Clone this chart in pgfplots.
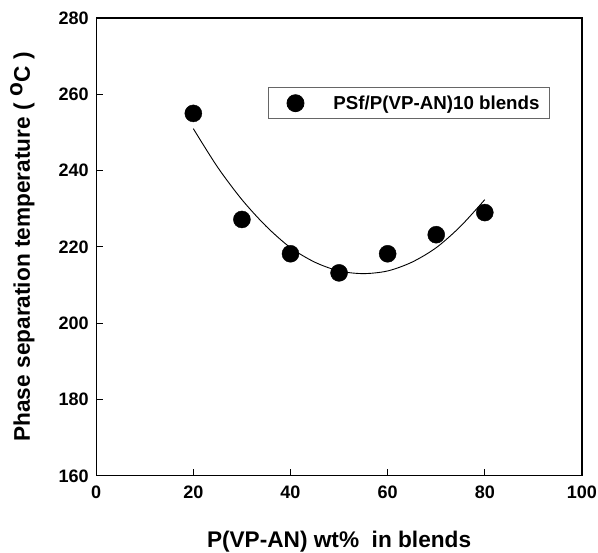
\documentclass[border=0pt]{standalone}
\usepackage{pgfplots}
\pgfplotsset{compat=1.18}
\usepackage{fontspec}
\setmainfont{Liberation Sans}
\begin{document}
\begin{tikzpicture}
\begin{axis}[
  scale only axis,
  width=485pt, height=457pt,
  xmin=0, xmax=100, ymin=160, ymax=280,
  xtick={0,20,...,100}, ytick={160,180,...,280},
  tick align=inside, xtick pos=bottom, ytick pos=left,
  major tick length=7pt,
  axis line style={line width=1.3pt},
  tick style={line width=1.1pt, black},
  /pgf/number format/assume math mode=true,
  ticklabel style={font=\fontsize{18}{21}\selectfont\bfseries},
  xticklabel style={yshift=-7pt},
  yticklabel style={xshift=-4pt},
  xlabel={P(VP-AN) wt\%\ \ in blends},
  ylabel={Phase separation temperature ( $^{\textbf{o}}$C )},
  label style={font=\fontsize{22.6}{26}\selectfont\bfseries},
  xlabel style={at={(axis description cs:0.5,0)}, anchor=base, yshift=-72pt},
  ylabel style={at={(axis description cs:0,0.5)}, anchor=south, yshift=58pt},
  legend style={at={(axis cs:35.3,264.0)}, anchor=south west, draw=black!60, line width=0.8pt,
    font=\fontsize{18.7}{22}\selectfont\bfseries, inner xsep=8pt, inner ysep=6pt,
    yshift=-40pt},
  legend cell align=left,
  legend image code/.code={\path (0,0); \fill[black] (19pt,0cm) circle (8.5pt);},
]
\addplot[only marks, mark=*, mark size=8.5pt, black] coordinates {
  (20,255) (30,227.2) (40,218.2) (50,213.2) (60,218.2) (70,223.2) (80,229)
};
\addlegendentry{\hspace{27pt}PSf/P(VP-AN)10 blends}
\addplot[smooth, black, line width=0.9pt, forget plot] coordinates {
  (20,251) (25,240.9) (30,232.4) (35,225.4) (40,219.8) (45,216) (50,213.7)
  (55,213) (60,213.7) (65,216) (70,219.8) (75,225.4) (80,232.4)
};
\end{axis}
\pgfresetboundingbox
\path ([xshift=-96pt,yshift=-77pt]current axis.south west) rectangle ([xshift=16pt,yshift=18pt]current axis.north east);
\end{tikzpicture}
\end{document}
